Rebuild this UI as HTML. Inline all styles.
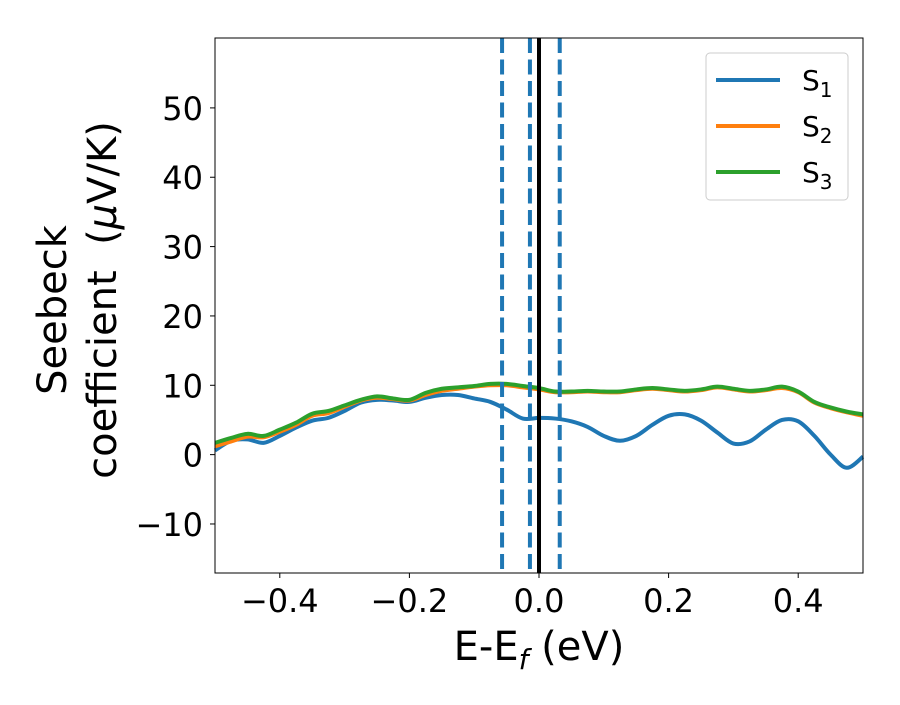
<!DOCTYPE html>
<html><head><meta charset="utf-8"><style>
body{margin:0;background:#fff;}
svg text{font-family:"DejaVu Sans","Liberation Sans",sans-serif;}
</style></head><body>
<svg id="chart" width="900" height="700" xmlns="http://www.w3.org/2000/svg">
<rect width="900" height="700" fill="#fff"/>
<g id="marks"></g>
<rect x="215" y="38" width="648" height="535" fill="none" stroke="#000" stroke-width="1"/>
<g id="axes"></g>
<text x="539" y="660" font-size="40" text-anchor="middle">E-E<tspan font-style="italic" font-size="28" dy="9">f</tspan><tspan dy="-9"> (eV)</tspan></text>
<text transform="translate(66,310) rotate(-90)" font-size="40" text-anchor="middle">Seebeck</text>
<text transform="translate(116,300) rotate(-90)" font-size="40" text-anchor="middle">coefficient&#160; (<tspan font-style="italic">μ</tspan>V/K)</text>
<g>
<rect x="706" y="53" width="142" height="147" rx="4" fill="#fff" fill-opacity="0.8" stroke="#ccc"/>
<g><line x1="716" y1="80" x2="780" y2="80" stroke="#1f77b4" stroke-width="4"/><text x="802" y="90" font-size="28">S<tspan font-size="20" dy="7">1</tspan></text></g>
<g><line x1="716" y1="126" x2="780" y2="126" stroke="#ff7f0e" stroke-width="4"/><text x="802" y="136" font-size="28">S<tspan font-size="20" dy="7">2</tspan></text></g>
<g><line x1="716" y1="172" x2="780" y2="172" stroke="#2ca02c" stroke-width="4"/><text x="802" y="182" font-size="28">S<tspan font-size="20" dy="7">3</tspan></text></g>
</g>
</svg>
<script>
const energies=[-0.5,-0.475,-0.45,-0.425,-0.4,-0.375,-0.35,-0.325,-0.3,-0.275,-0.25,-0.225,-0.2,-0.175,-0.15,-0.125,-0.1,-0.075,-0.05,-0.025,0,0.025,0.05,0.075,0.1,0.125,0.15,0.175,0.2,0.225,0.25,0.275,0.3,0.325,0.35,0.375,0.4,0.425,0.45,0.475,0.5];
const s1=[0.6,2.0,2.2,1.7,2.7,3.9,4.9,5.3,6.3,7.5,7.9,7.8,7.6,8.2,8.6,8.6,8.1,7.6,6.5,5.2,5.3,5.2,4.8,4.0,2.7,2.0,2.7,4.3,5.6,5.8,4.9,3.2,1.6,1.9,3.6,5.0,4.8,2.7,0,-1.9,-0.3];
const s2=[1.2,1.9,2.6,2.5,3.3,4.3,5.6,6.0,6.9,7.8,8.2,8.0,7.8,8.6,9.2,9.5,9.8,10.0,10.0,9.7,9.4,9.0,9.0,9.1,9.0,9.0,9.3,9.5,9.3,9.1,9.3,9.7,9.4,9.1,9.3,9.6,9.0,7.5,6.7,6.1,5.6];
const s3=[1.7,2.4,3.0,2.7,3.6,4.6,5.9,6.3,7.1,7.9,8.4,8.1,7.9,8.9,9.5,9.7,9.9,10.2,10.2,9.9,9.6,9.1,9.1,9.2,9.1,9.1,9.4,9.6,9.4,9.2,9.4,9.8,9.5,9.2,9.4,9.8,9.1,7.6,6.8,6.2,5.8];
const dashedLines=[-0.057,-0.014,0.032];
const xTicks=[-0.4,-0.2,0.0,0.2,0.4];
const xTickLabels=["\u22120.4","\u22120.2","0.0","0.2","0.4"];
const yTicks=[-10,0,10,20,30,40,50];
const yTickLabels=["\u221210","0","10","20","30","40","50"];
const X0=215,X1=863,Y0=573,Y1=38,XMIN=-0.5,XMAX=0.5,YMIN=-17.07,YMAX=60.08;
const sx=v=>X0+(v-XMIN)/(XMAX-XMIN)*(X1-X0);
const sy=v=>Y0-(v-YMIN)/(YMAX-YMIN)*(Y0-Y1);
const NS="http://www.w3.org/2000/svg";
const marks=document.getElementById('marks'),axes=document.getElementById('axes');
function mk(t,a,p){const e=document.createElementNS(NS,t);for(const k in a)e.setAttribute(k,a[k]);p.appendChild(e);return e;}
function catmull(pts){let d=`M${pts[0][0]},${pts[0][1]}`;for(let i=0;i<pts.length-1;i++){const p0=pts[i-1]||pts[i],p1=pts[i],p2=pts[i+1],p3=pts[i+2]||p2;
d+=` C${p1[0]+(p2[0]-p0[0])/6},${p1[1]+(p2[1]-p0[1])/6} ${p2[0]-(p3[0]-p1[0])/6},${p2[1]-(p3[1]-p1[1])/6} ${p2[0]},${p2[1]}`;}return d;}
const series=[[s1,'#1f77b4','series-s1'],[s2,'#ff7f0e','series-s2'],[s3,'#2ca02c','series-s3']];
for(const [vals,col,name] of series){
 const p=mk('path',{d:catmull(vals.map((v,i)=>[sx(energies[i]),sy(v)])),fill:'none',stroke:col,'stroke-width':4,'stroke-linejoin':'round'},marks);
 
 
}
for(const v of dashedLines){
 const l=mk('line',{x1:sx(v),x2:sx(v),y1:Y1,y2:Y0,stroke:'#1f77b4','stroke-width':4,'stroke-dasharray':'15,6.5'},marks);
 
 
}
const fl=mk('line',{x1:sx(0),x2:sx(0),y1:Y1,y2:Y0,stroke:'#000','stroke-width':4},marks);


xTicks.forEach((v,i)=>{
 const t=mk('line',{x1:sx(v),x2:sx(v),y1:Y0,y2:Y0+5,stroke:'#000'},axes);
 
 
 const tx=mk('text',{x:sx(v),y:Y0+39,'font-size':32,'text-anchor':'middle'},axes);
 tx.textContent=xTickLabels[i];
 
 
});
yTicks.forEach((v,i)=>{
 const t=mk('line',{x1:X0-5,x2:X0,y1:sy(v),y2:sy(v),stroke:'#000'},axes);
 
 
 const tx=mk('text',{x:X0-12,y:sy(v)+12,'font-size':32,'text-anchor':'end'},axes);
 tx.textContent=yTickLabels[i];
 
 
});
</script>
</body></html>
